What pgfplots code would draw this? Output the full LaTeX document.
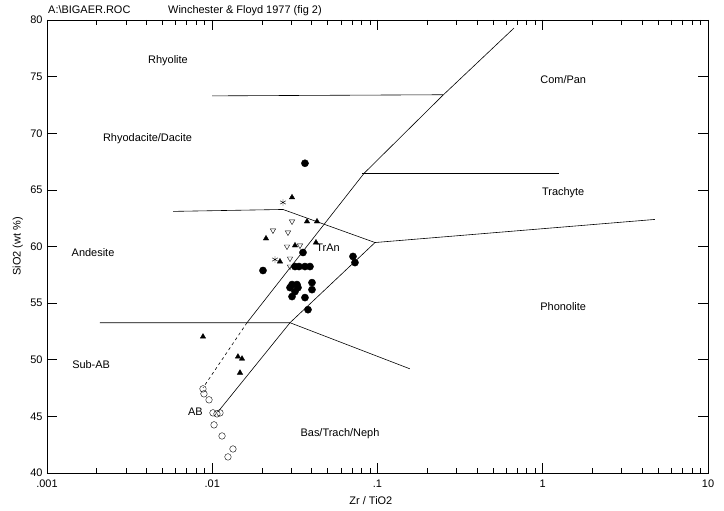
\documentclass[border=0pt]{standalone}
\usepackage{pgfplots}
\pgfplotsset{compat=1.18}
\usepackage{fontspec}
\setmainfont{Liberation Sans}
\begin{document}
\begin{tikzpicture}[font=\fontsize{11}{13}\selectfont]
\useasboundingbox (-47bp,-38bp) rectangle (677bp,473bp);
\begin{axis}[at={(0,0)}, anchor=south west, scale only axis,
  width=661bp, height=453bp,
  xmode=log, xmin=0.001, xmax=10, ymin=40, ymax=80,
  xtick={0.001,0.01,0.1,1,10}, xticklabels={.001,.01,.1,1,10},
  ytick={40,45,50,55,60,65,70,75,80}, yticklabels={40,45,50,55,60,65,70,75,80},
  minor y tick num=0,
  tick align=inside, major tick length=10bp, minor tick length=5bp,
  tick style={black, line width=0.6pt},
  axis line style={line width=0.7pt},
  xticklabel style={yshift=-3bp},
  yticklabel style={xshift=-1bp},
  xlabel={Zr / TiO2}, ylabel={SiO2 (wt \%)},
  xlabel style={at={(axis description cs:0.49,-0.06)}, anchor=center},
  ylabel style={at={(axis description cs:-0.044,0.5)}, anchor=center},
  clip=false,
]
% boundary lines
\addplot[black, line width=0.6pt] coordinates {(0.00998,73.3) (0.249,73.4)};
\addplot[black, line width=0.6pt] coordinates {(0.00579,63.1) (0.0268,63.27) (0.0966,60.35)};
\addplot[black, line width=0.6pt] coordinates {(0.0805,66.46) (1.25,66.46)};
\addplot[black, line width=0.6pt] coordinates {(0.0966,60.35) (4.77,62.39)};
\addplot[black, line width=0.6pt] coordinates {(0.0966,60.35) (0.02955,53.27) (0.01083,45.40)};
\addplot[black, line width=0.6pt] coordinates {(0.00209,53.27) (0.02955,53.27) (0.157,49.2)};
\addplot[black, line width=0.6pt] coordinates {(0.01623,53.27) (0.0829,66.46) (0.249,73.36) (0.670,79.29)};
\addplot[black, line width=0.6pt, dashed] coordinates {(0.01623,53.27) (0.00879,47.52)};
% filled dots
\addplot[only marks, mark=*, mark size=3.6pt, black] coordinates {
(0.0364,67.35) (0.07107,59.12) (0.07307,58.58) (0.02028,57.88) (0.03541,59.47)
(0.03168,58.23) (0.0335,58.23) (0.0364,58.23) (0.03904,58.23)
(0.03039,56.64) (0.03257,56.64) (0.03302,56.37) (0.02955,56.37) (0.03168,56.02)
(0.04014,56.81) (0.04014,56.19) (0.03039,55.58) (0.0364,55.49) (0.03797,54.42)};
% filled triangles
\addplot[only marks, mark=triangle*, mark size=3.1pt, black] coordinates {
(0.03039,64.34) (0.02115,60.71) (0.03168,60.09) (0.04244,60.35) (0.03745,62.21)
(0.04304,62.21) (0.0257,58.67) (0.00879,52.04) (0.01431,50.27) (0.01514,50.09) (0.01472,48.85)};
% open inverted triangles
\addplot[only marks, mark=triangle, mark size=3.1pt, black, mark options={rotate=180}] coordinates {
(0.03039,62.21) (0.02331,61.42) (0.02873,61.24) (0.03396,60.09) (0.02834,60.0)
(0.02955,58.94) (0.02955,58.23)};
% stars
\addplot[only marks, mark=asterisk, mark size=3.4pt, black] coordinates {
(0.02679,63.89) (0.02397,58.85)};
% open circles
\addplot[only marks, mark=o, mark size=3.3pt, black] coordinates {
(0.00879,47.43) (0.00891,46.99) (0.00956,46.46) (0.01010,45.31) (0.01068,45.22)
(0.01114,45.31) (0.01025,44.25) (0.01146,43.27) (0.01335,42.12) (0.01245,41.42)};
% field labels
\node at (axis cs:0.0054,76.37) {Rhyolite};
\node at (axis cs:0.00406,69.56) {Rhyodacite/Dacite};
\node at (axis cs:0.0019,59.47) {Andesite};
\node at (axis cs:0.00185,49.56) {Sub-AB};
\node at (axis cs:0.0079,45.4) {AB};
\node at (axis cs:0.0593,43.45) {Bas/Trach/Neph};
\node at (axis cs:0.0502,59.91) {TrAn};
\node at (axis cs:1.33,74.78) {Com/Pan};
\node at (axis cs:1.33,64.78) {Trachyte};
\node at (axis cs:1.33,54.69) {Phonolite};
\end{axis}
\node[anchor=base west, inner sep=0pt] at (1bp,459bp) {A:\textbackslash BIGAER.ROC};
\node[anchor=base west, inner sep=0pt] at (121bp,459bp) {Winchester \& Floyd 1977 (fig 2)};
\end{tikzpicture}
\end{document}
